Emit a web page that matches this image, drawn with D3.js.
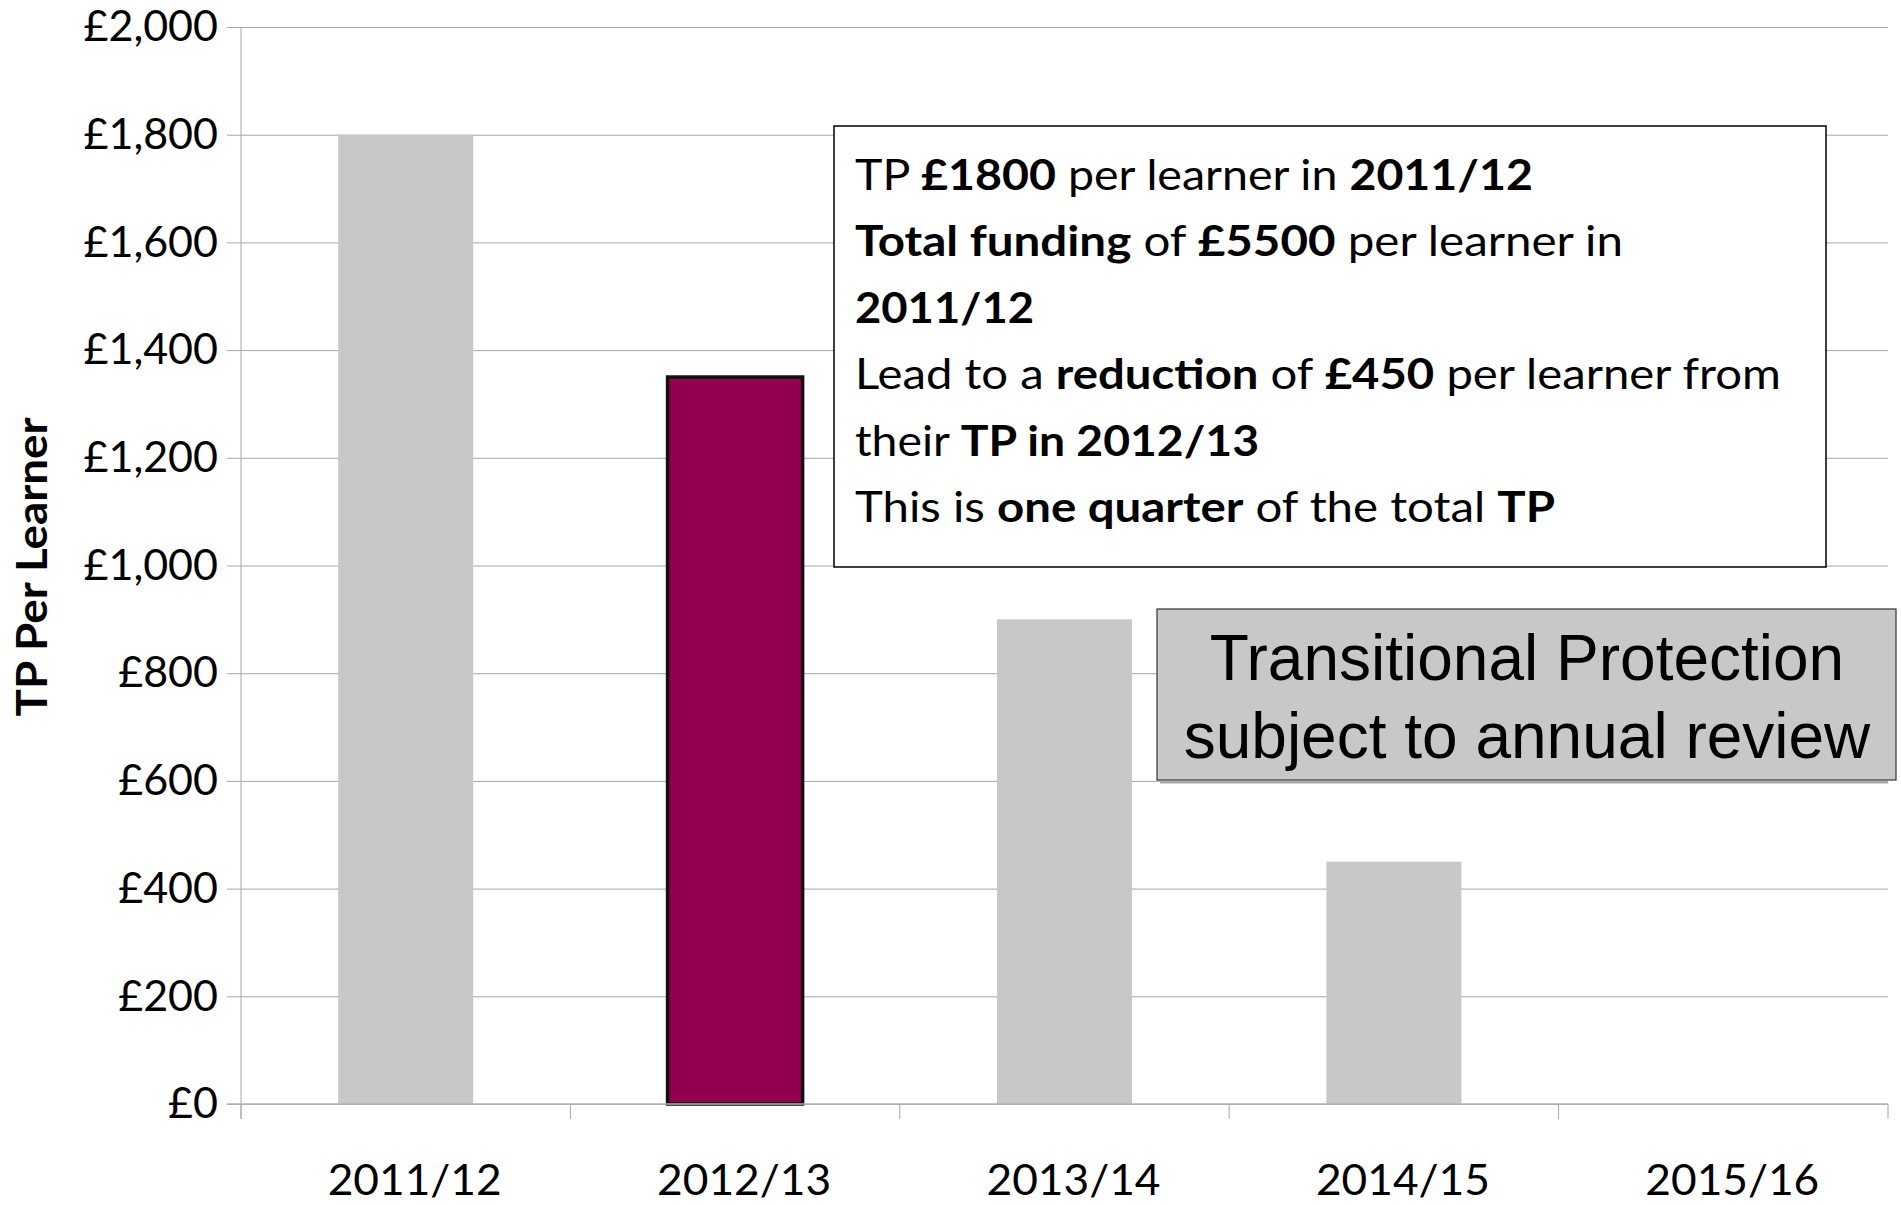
<!DOCTYPE html>
<html lang="en">
<head>
    <meta charset="UTF-8">
    <title>TP Per Learner</title>
    <style>
        body { margin: 0; background: #fff; }
    </style>
</head>
<body>
    <div id="chart"></div>
    <script src="https://d3js.org/d3.v7.min.js"></script>
    <script>

    // data
    const years = ["2011/12", "2012/13", "2013/14", "2014/15", "2015/16"];
    const tpValues = [1800, 1350, 900, 450, 0];
    const highlightYear = "2012/13";
    const yTicks = [0, 200, 400, 600, 800, 1000, 1200, 1400, 1600, 1800, 2000];

    // note lines, each a list of [text, bold?]
    const noteLines = [
        [["TP ", false], ["£1800", true], [" per learner in ", false], ["2011/12", true]],
        [["Total funding", true], [" of ", false], ["£5500", true], [" per learner in", false]],
        [["2011/12", true]],
        [["Lead to a ", false], ["reduction", true], [" of ", false], ["£450", true], [" per learner from", false]],
        [["their ", false], ["TP in 2012/13", true]],
        [["This is ", false], ["one quarter", true], [" of the total ", false], ["TP", true]]
    ];
    const noteWidths = [678, 768, 179, 926, 404, 700];
    const reviewLines = ["Transitional Protection", "subject to annual review"];

    // set up the page
    const margin = {top: 27, right: 13, bottom: 101, left: 241},
        width = 1901 - margin.left - margin.right,
        height = 1205 - margin.top - margin.bottom;

    const svgRoot = d3.select("#chart")
        .append("svg")
        .attr("width", 1901)
        .attr("height", 1205);

    const svg = svgRoot.append("g")
        .attr("transform", `translate(${margin.left}, ${margin.top})`);

    const x = d3.scaleBand()
        .domain(years)
        .range([0, width])
        .paddingInner(0.59)
        .paddingOuter(0.295);

    // plain bands, used for the category tick marks
    const xEdges = d3.scaleBand()
        .domain(years)
        .range([0, width])
        .padding(0);

    const y = d3.scaleLinear()
        .domain([0, 2000])
        .range([height, 0]);

    const calibri = "Lato, 'Open Sans', sans-serif";

    // gridlines
    svg.append("g")
        .attr("transform", "translate(-14, 0)")
        .call(d3.axisLeft(y).tickValues(yTicks).tickSize(-(width + 14)).tickFormat(""))
        .call(g => g.select(".domain").remove())
        .selectAll("line")
        .attr("stroke", "#a6a6a6")
        .attr("stroke-width", 1);

    // y axis with labels
    svg.append("g")
        .call(d3.axisLeft(y)
            .tickValues(yTicks)
            .tickSize(0)
            .tickPadding(23)
            .tickFormat(d => "£" + d3.format(",")(d)))
        .call(g => g.select(".domain").remove())
        .selectAll("text")
        .attr("font-family", calibri)
        .attr("font-size", 43)
        .attr("fill", "#000");

    svg.append("line")
        .attr("x1", 0).attr("x2", 0)
        .attr("y1", 0).attr("y2", height + 15)
        .attr("stroke", "#a6a6a6");

    // bars
    svg.append("g")
        .selectAll("rect")
        .data(years.map((d, i) => ({year: d, value: tpValues[i]})).filter(d => d.value > 0))
        .join("rect")
        .attr("x", d => x(d.year))
        .attr("y", d => y(d.value))
        .attr("width", x.bandwidth())
        .attr("height", d => height - y(d.value))
        .attr("fill", d => d.year === highlightYear ? "#940050" : "#c8c8c8")
        .attr("stroke", d => d.year === highlightYear ? "#111" : "none")
        .attr("stroke-width", 3.5);

    // x axis baseline and category ticks
    svg.append("line")
        .attr("x1", -14).attr("x2", width)
        .attr("y1", height).attr("y2", height)
        .attr("stroke", "#b4b4b4")
        .attr("stroke-width", 1.5);

    svg.append("g")
        .selectAll("line")
        .data(years.map(d => xEdges(d)).concat([width]))
        .join("line")
        .attr("x1", d => d).attr("x2", d => d)
        .attr("y1", height).attr("y2", height + 15)
        .attr("stroke", "#a6a6a6");

    svg.append("g")
        .attr("transform", `translate(9, ${height})`)
        .call(d3.axisBottom(x).tickSize(0).tickPadding(61))
        .call(g => g.select(".domain").remove())
        .selectAll("text")
        .attr("font-family", calibri)
        .attr("font-size", 42)
        .attr("fill", "#000")
        .attr("textLength", 174)
        .attr("lengthAdjust", "spacingAndGlyphs");

    // y axis title
    svgRoot.append("text")
        .attr("transform", "translate(47, 567) rotate(-90)")
        .attr("text-anchor", "middle")
        .attr("font-family", calibri)
        .attr("font-weight", "bold")
        .attr("font-size", 42)
        .attr("textLength", 299)
        .attr("lengthAdjust", "spacingAndGlyphs")
        .text("TP Per Learner");

    // white note box
    const note = svgRoot.append("g");
    note.append("clipPath").attr("id", "noteClip")
        .append("rect")
        .attr("x", 834).attr("y", 126).attr("width", 992).attr("height", 441);

    note.append("rect")
        .attr("x", 834).attr("y", 126)
        .attr("width", 992).attr("height", 441)
        .attr("fill", "#fff")
        .attr("stroke", "#000")
        .attr("stroke-width", 1.5);

    const noteText = note.append("g").attr("clip-path", "url(#noteClip)");
    noteLines.forEach((parts, i) => {
        const t = noteText.append("text")
            .attr("x", 855)
            .attr("y", 190 + i * 66.4)
            .attr("font-family", calibri)
            .attr("font-size", 42)
            .attr("textLength", noteWidths[i])
            .attr("lengthAdjust", "spacingAndGlyphs");
        parts.forEach(p => {
            t.append("tspan")
                .attr("font-weight", p[1] ? "bold" : "normal")
                .text(p[0]);
        });
    });

    // grey review box
    const review = svgRoot.append("g");
    review.append("rect")
        .attr("x", 1160).attr("y", 781)
        .attr("width", 1888 - 1160).attr("height", 2.5)
        .attr("fill", "#a8a8a8");
    review.append("rect")
        .attr("x", 1157).attr("y", 609)
        .attr("width", 739).attr("height", 171)
        .attr("fill", "#c8c8c8")
        .attr("stroke", "#333")
        .attr("stroke-width", 1.2);
    review.selectAll("text")
        .data(reviewLines)
        .join("text")
        .attr("x", 1527)
        .attr("y", (d, i) => 680 + i * 78)
        .attr("text-anchor", "middle")
        .attr("font-family", "'Liberation Sans', Arial, sans-serif")
        .attr("font-size", 64)
        .attr("fill", "#000")
        .text(d => d);

    </script>
</body>
</html>
